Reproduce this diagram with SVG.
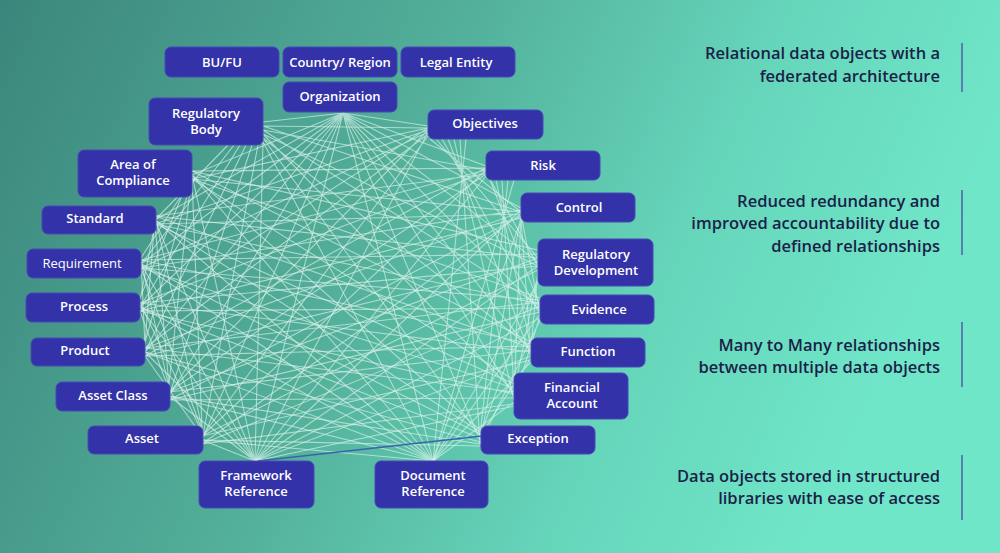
<svg xmlns="http://www.w3.org/2000/svg" width="1000" height="553" viewBox="0 0 1000 553">
<defs>
<linearGradient id="bg" x1="0" y1="0" x2="1" y2="0.25">
<stop offset="0" stop-color="#3b867c"/>
<stop offset="0.45" stop-color="#53b09a"/>
<stop offset="0.75" stop-color="#66d6bb"/>
<stop offset="1" stop-color="#70e6c8"/>
</linearGradient>
<style>
.n rect{fill:#3332a8;stroke:#4848b8;stroke-width:1}
.n text{fill:#ffffff;font-family:"Open Sans","Liberation Sans",sans-serif;font-size:13px;font-weight:600;text-anchor:middle}
.web path{fill:none;stroke:#d6f0e8;stroke-opacity:0.68;stroke-width:1.1}
.cap text{fill:#1c1f48;font-family:"Open Sans","Liberation Sans",sans-serif;font-size:16.5px;font-weight:600;text-anchor:end}
.cap line{stroke:#5565ad;stroke-width:1.6}
</style>
</defs>
<rect x="0" y="0" width="1000" height="553" fill="url(#bg)"/>
<g id="connectors" class="web">
<path d="M343 113 263 122M343 113 428 126M343 113 486 166M343 113 521 208M343 113 538 262M343 113 540 310M343 113 531 352M343 113 514 396M343 113 480 440M343 113 433 461M343 113 255 461M343 113 202 440M343 113 169 396M343 113 145 352M343 113 140 307M343 113 141 264M343 113 155 220M343 113 192 175"/>
<path d="M263 126 428 128M263 130 486 170M263 126 521 212M263 134 538 266M263 130 540 306M263 138 531 348M263 134 514 392M263 138 480 436M263 142 433 461M263 142 255 461M258 145 202 440M252 145 169 396M246 145 145 352M240 145 140 307M234 145 141 264M228 145 155 220"/>
<path d="M430 139 521 212M436 139 538 258M442 139 540 314M448 139 531 356M454 139 514 400M460 139 480 444M466 139 433 461M428 132 255 461M428 136 202 436M428 130 169 392M428 134 145 348M428 128 140 311M428 132 141 268M428 130 155 224M428 128 192 179"/>
<path d="M486 172 538 266M490 180 540 306M496 180 531 348M502 180 514 392M508 180 480 436M514 180 433 461M486 176 255 461M486 170 202 436M486 174 169 392M486 168 145 356M486 172 140 303M486 170 141 260M486 174 155 216M486 168 192 171"/>
<path d="M521 214 540 314M521 218 531 356M521 212 514 400M521 216 480 444M521 220 433 461M521 210 255 461M521 214 202 444M521 216 169 400M521 212 145 348M521 218 140 311M521 210 141 268M521 214 155 224M521 212 192 179"/>
<path d="M538 270 531 348M538 274 514 392M538 278 480 436M538 282 433 461M538 266 255 461M538 270 202 436M538 258 169 392M538 262 145 356M538 266 140 303M538 254 141 260M538 258 155 216M538 250 192 171"/>
<path d="M540 316 514 400M540 320 480 444M540 314 433 461M540 318 255 461M540 306 202 444M540 312 169 400M540 302 145 348M540 308 140 311M540 300 141 268M540 304 155 224M540 298 192 179"/>
<path d="M531 358 480 436M531 362 433 461M531 356 255 461M531 360 202 436M531 350 169 392M531 346 145 356M531 352 140 303M531 344 141 260M531 348 155 216M531 342 192 171"/>
<path d="M514 402 433 461M514 406 255 461M514 404 202 444M514 398 169 400M514 392 145 348M514 394 140 311M514 388 141 268M514 384 155 224M514 380 192 179"/>
<path d="M480 446 202 440M480 444 169 396M480 442 145 352M480 438 140 307M480 434 141 264M480 432 155 220M480 430 192 175"/>
<path d="M433 461 202 440M433 461 169 396M433 461 145 352M433 461 140 307M433 461 141 264M433 461 155 220M433 461 192 175"/>
<path d="M255 461 202 440M255 461 169 396M255 461 145 352M255 461 140 307M255 461 141 264M255 461 155 220M255 461 192 175"/>
<path d="M202 436 145 356M202 432 140 303M202 430 141 268M202 428 155 216M202 428 192 179"/>
<path d="M169 390 140 311M169 388 141 260M169 386 155 224M169 384 192 171"/>
<path d="M145 346 141 260M145 344 155 216M145 342 192 179"/>
<path d="M140 300 155 224M140 298 192 171M141 258 192 179"/>
<path d="M258 461 482 436" style="stroke:#3b63ad;stroke-opacity:1;stroke-width:1.4"/>
</g>
<g id="n-bufu" class="n"><rect x="165" y="47" width="114" height="30" rx="6"/><text x="222" y="67">BU/FU</text></g>
<g id="n-country" class="n"><rect x="283" y="47" width="114" height="30" rx="6"/><text x="340" y="67">Country/ Region</text></g>
<g id="n-legal" class="n"><rect x="401" y="47" width="114" height="30" rx="6"/><text x="456" y="67">Legal Entity</text></g>
<g id="n-org" class="n"><rect x="283" y="82" width="114" height="30" rx="6"/><text x="340" y="101">Organization</text></g>
<g id="n-regbody" class="n"><rect x="149" y="98" width="114" height="47" rx="6"/><text x="206" y="118">Regulatory</text><text x="206" y="134">Body</text></g>
<g id="n-objectives" class="n"><rect x="428" y="110" width="115" height="29" rx="6"/><text x="485" y="128">Objectives</text></g>
<g id="n-risk" class="n"><rect x="486" y="151" width="114" height="29" rx="6"/><text x="543" y="170">Risk</text></g>
<g id="n-control" class="n"><rect x="521" y="193" width="114" height="29" rx="6"/><text x="579" y="212">Control</text></g>
<g id="n-regdev" class="n"><rect x="538" y="239" width="115" height="47" rx="6"/><text x="596" y="259">Regulatory</text><text x="596" y="275">Development</text></g>
<g id="n-evidence" class="n"><rect x="540" y="295" width="114" height="29" rx="6"/><text x="599" y="314">Evidence</text></g>
<g id="n-function" class="n"><rect x="531" y="338" width="114" height="29" rx="6"/><text x="588" y="356">Function</text></g>
<g id="n-finacct" class="n"><rect x="514" y="373" width="114" height="46" rx="6"/><text x="572" y="392">Financial</text><text x="572" y="408">Account</text></g>
<g id="n-exception" class="n"><rect x="481" y="426" width="114" height="28" rx="6"/><text x="538" y="443">Exception</text></g>
<g id="n-docref" class="n"><rect x="375" y="461" width="113" height="47" rx="6"/><text x="433" y="480">Document</text><text x="433" y="496">Reference</text></g>
<g id="n-fwref" class="n"><rect x="199" y="461" width="115" height="47" rx="6"/><text x="256" y="480">Framework</text><text x="256" y="496">Reference</text></g>
<g id="n-asset" class="n"><rect x="88" y="426" width="115" height="28" rx="6"/><text x="142" y="443">Asset</text></g>
<g id="n-assetclass" class="n"><rect x="56" y="382" width="114" height="29" rx="6"/><text x="113" y="400">Asset Class</text></g>
<g id="n-product" class="n"><rect x="31" y="338" width="114" height="28" rx="6"/><text x="85" y="355">Product</text></g>
<g id="n-process" class="n"><rect x="26" y="293" width="114" height="29" rx="6"/><text x="84" y="311">Process</text></g>
<g id="n-requirement" class="n"><rect x="27" y="249" width="114" height="29" rx="6"/><text x="82" y="268" style="font-weight:400">Requirement</text></g>
<g id="n-standard" class="n"><rect x="42" y="206" width="114" height="28" rx="6"/><text x="95" y="223">Standard</text></g>
<g id="n-aoc" class="n"><rect x="78" y="150" width="114" height="47" rx="6"/><text x="133" y="169">Area of</text><text x="133" y="185">Compliance</text></g>
<g id="captions" class="cap">
<text x="940" y="59">Relational data objects with a</text>
<text x="940" y="82">federated architecture</text>
<line x1="962" y1="43" x2="962" y2="92"/>
<text x="940" y="207">Reduced redundancy and</text>
<text x="940" y="229">improved accountability due to</text>
<text x="940" y="252">defined relationships</text>
<line x1="962" y1="190" x2="962" y2="255"/>
<text x="940" y="351">Many to Many relationships</text>
<text x="940" y="373">between multiple data objects</text>
<line x1="962" y1="322" x2="962" y2="387"/>
<text x="940" y="482">Data objects stored in structured</text>
<text x="940" y="504">libraries with ease of access</text>
<line x1="962" y1="455" x2="962" y2="520"/>
</g>
</svg>
